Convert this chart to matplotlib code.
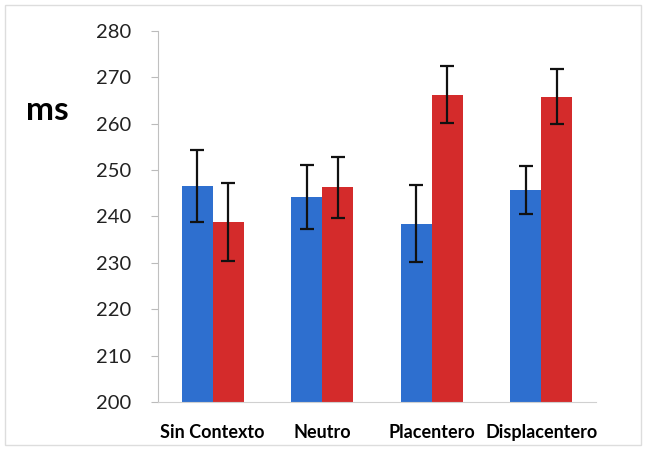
import matplotlib
matplotlib.use("Agg")
import matplotlib.pyplot as plt
from matplotlib.patches import Rectangle
import numpy as np

plt.rcParams['font.family'] = ['Lato', 'DejaVu Sans']

categories = ["Sin Contexto", "Neutro", "Placentero", "Displacentero"]
blue_vals = [246.6, 244.2, 238.4, 245.7]
blue_err = [7.8, 6.9, 8.3, 5.1]
red_vals = [238.8, 246.3, 266.3, 265.8]
red_err = [8.4, 6.6, 6.2, 5.9]
y_ticks = [200, 210, 220, 230, 240, 250, 260, 270, 280]

fig = plt.figure(figsize=(6.47, 4.5), dpi=100)
ax = fig.add_axes([0.2442, 0.1067, 0.677, 0.8244])

x = np.arange(len(categories))
w = 0.283
ekw = dict(elinewidth=1.6, capthick=1.6, ecolor="#111111")
ax.bar(x - w / 2, blue_vals, w, color="#2e6fcf", yerr=blue_err, capsize=5, error_kw=ekw)
ax.bar(x + w / 2, red_vals, w, color="#d42b2b", yerr=red_err, capsize=5, error_kw=ekw)

ax.set_ylim(200, 280)
ax.set_xlim(-0.5, 3.5)
ax.set_yticks(y_ticks)
ax.set_xticks(x)
ax.set_xticklabels(categories, fontsize=13, fontweight="bold")
ax.tick_params(axis="y", labelsize=14.5, length=5, color="#bbbbbb", pad=14, labelcolor="#222222")
ax.tick_params(axis="x", length=0, pad=16)
for s in ["top", "right"]:
    ax.spines[s].set_visible(False)
ax.spines["left"].set_color("#c0c0c0")
ax.spines["bottom"].set_color("#d0d0d0")

fig.text(47 / 647, 1 - 110 / 450, "ms", fontsize=24, fontweight="bold", ha="center", va="center")

fig.patches.append(Rectangle((5 / 647, 5 / 450), 636 / 647, 440 / 450, transform=fig.transFigure,
                             fill=False, edgecolor="#dddddd", linewidth=1))

fig.savefig("out.png", dpi=100)
